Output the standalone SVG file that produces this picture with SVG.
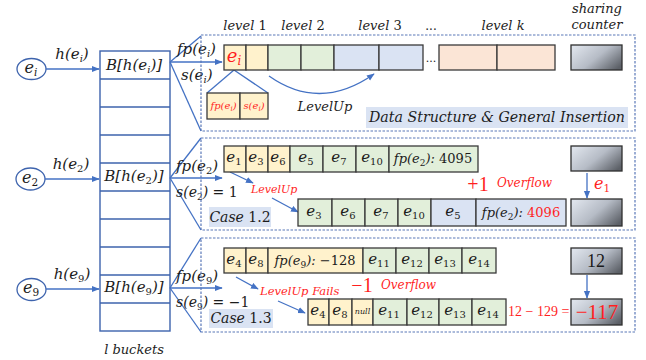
<svg xmlns="http://www.w3.org/2000/svg" width="646" height="360" viewBox="0 0 646 360">
  <style>
    .m { font-family: "DejaVu Serif", "Liberation Serif", serif; font-style: italic; fill: #1c1c1c; }
    .n { font-style: normal; }
    .t { font-family: "Liberation Serif", "DejaVu Serif", serif; font-style: normal; }
    .red { fill: #ff1f1f; }
    .c { text-anchor: middle; }
    .blue { stroke: #4472c4; fill: none; stroke-width: 1.3; }
    .panel { fill: none; stroke: #5a78b8; stroke-width: 1.2; stroke-dasharray: 2.5 1.5; }
    .cell { stroke: #3a3a3a; stroke-width: 1.3; }
    .y { fill: #fff2cc; }
    .g { fill: #e2efda; }
    .b { fill: #dae3f3; }
    .p { fill: #fbe5d6; }
    .tag { fill: #dae3f3; }
    .cnt { fill: url(#cntGrad); stroke: #2f2f2f; stroke-width: 1.3; }
  </style>
  <defs>
    <linearGradient id="cntGrad" x1="0" y1="0.2" x2="1" y2="0.8">
      <stop offset="0" stop-color="#dde2ea"/>
      <stop offset="0.5" stop-color="#b6bcc6"/>
      <stop offset="1" stop-color="#5c6067"/>
    </linearGradient>
    <marker id="arr" viewBox="0 0 10 10" refX="9" refY="5" markerWidth="6" markerHeight="6" orient="auto">
      <path d="M0,1 L10,5 L0,9 z" fill="#4472c4"/>
    </marker>
  </defs>

  <rect width="646" height="360" fill="#ffffff"/>

  <!-- hashed keys -->
  <g id="key-ei">
    <ellipse cx="31.5" cy="69" rx="14.5" ry="10.5" fill="#fff" stroke="#3d63ad" stroke-width="1.3"/>
    <text class="m c" x="31" y="73" font-size="16">e<tspan font-size="10.5" dy="3">i</tspan></text>
  </g>
  <g id="key-e2">
    <ellipse cx="30.5" cy="179" rx="14.5" ry="11" fill="#fff" stroke="#3d63ad" stroke-width="1.3"/>
    <text class="m c" x="30" y="183" font-size="16">e<tspan class="n" font-size="10.5" dy="3">2</tspan></text>
  </g>
  <g id="key-e9">
    <ellipse cx="31.5" cy="289.5" rx="14.5" ry="11" fill="#fff" stroke="#3d63ad" stroke-width="1.3"/>
    <text class="m c" x="31" y="293" font-size="16">e<tspan class="n" font-size="10.5" dy="3">9</tspan></text>
  </g>

  <!-- bucket array -->
  <g id="buckets">
    <rect x="100" y="51" width="70" height="280" fill="#fff" stroke="#3d63ad" stroke-width="1.4"/>
    <g stroke="#3d63ad" stroke-width="1.4">
      <line x1="100" y1="79" x2="170" y2="79"/>
      <line x1="100" y1="107" x2="170" y2="107"/>
      <line x1="100" y1="135" x2="170" y2="135"/>
      <line x1="100" y1="163" x2="170" y2="163"/>
      <line x1="100" y1="191" x2="170" y2="191"/>
      <line x1="100" y1="219" x2="170" y2="219"/>
      <line x1="100" y1="247" x2="170" y2="247"/>
      <line x1="100" y1="275" x2="170" y2="275"/>
      <line x1="100" y1="303" x2="170" y2="303"/>
    </g>
    <text class="m c" x="134" y="70" font-size="15">B[h(e<tspan font-size="10" dy="3">i</tspan><tspan dy="-3">)]</tspan></text>
    <text class="m c" x="134" y="181" font-size="15">B[h(e<tspan class="n" font-size="10" dy="3">2</tspan><tspan dy="-3">)]</tspan></text>
    <text class="m c" x="134" y="292" font-size="15">B[h(e<tspan class="n" font-size="10" dy="3">9</tspan><tspan dy="-3">)]</tspan></text>
    <text class="m c" x="134" y="354" font-size="13">l buckets</text>
  </g>

  <!-- connectors -->
  <g id="connectors">
    <line class="blue" x1="46" y1="69" x2="99" y2="69" marker-end="url(#arr)"/>
    <line class="blue" x1="45" y1="179" x2="99" y2="179" marker-end="url(#arr)"/>
    <line class="blue" x1="46" y1="289" x2="99" y2="289" marker-end="url(#arr)"/>

    <line class="blue" x1="170" y1="62" x2="201" y2="36"/>
    <line class="blue" x1="170" y1="62" x2="201" y2="131"/>
    <line class="blue" x1="170" y1="62" x2="222" y2="62" stroke-width="1.8" marker-end="url(#arr)"/>

    <line class="blue" x1="170" y1="178" x2="201" y2="138"/>
    <line class="blue" x1="170" y1="178" x2="201" y2="230"/>
    <line class="blue" x1="170" y1="178" x2="222" y2="178" stroke-width="1.8" marker-end="url(#arr)"/>

    <line class="blue" x1="170" y1="288" x2="201" y2="238"/>
    <line class="blue" x1="170" y1="288" x2="201" y2="332"/>
    <line class="blue" x1="170" y1="288" x2="222" y2="288" stroke-width="1.8" marker-end="url(#arr)"/>

    <!-- detail of a bucket entry -->
    <line class="blue" x1="234" y1="70" x2="207" y2="93"/>
    <line class="blue" x1="234" y1="70" x2="268" y2="93"/>
    <!-- level-up move -->
    <path class="blue" d="M269,76 Q320,112 374,74" marker-end="url(#arr)"/>

    <line class="blue" x1="230" y1="172" x2="253" y2="183" marker-end="url(#arr)"/>
    <line class="blue" x1="272" y1="198" x2="298" y2="212" marker-end="url(#arr)"/>

    <line class="blue" x1="236" y1="277" x2="258" y2="289" marker-end="url(#arr)"/>
    <line class="blue" x1="278" y1="301" x2="305" y2="313" marker-end="url(#arr)"/>

    <line class="blue" x1="587" y1="173" x2="587" y2="198" marker-end="url(#arr)"/>
    <line class="blue" x1="587" y1="275" x2="587" y2="298" marker-end="url(#arr)"/>
  </g>

  <!-- edge labels -->
  <g id="edge-labels">
    <text class="m c" x="72" y="59" font-size="15">h(e<tspan font-size="10" dy="3">i</tspan><tspan dy="-3">)</tspan></text>
    <text class="m c" x="71" y="169" font-size="15">h(e<tspan class="n" font-size="10" dy="3">2</tspan><tspan dy="-3">)</tspan></text>
    <text class="m c" x="72" y="279" font-size="15">h(e<tspan class="n" font-size="10" dy="3">9</tspan><tspan dy="-3">)</tspan></text>

    <text class="m" x="177" y="54" font-size="15">fp(e<tspan font-size="10" dy="3">i</tspan><tspan dy="-3">)</tspan></text>
    <text class="m" x="181" y="80" font-size="15">s(e<tspan font-size="10" dy="3">i</tspan><tspan dy="-3">)</tspan></text>

    <text class="m" x="176" y="171" font-size="15">fp(e<tspan class="n" font-size="10" dy="3">2</tspan><tspan dy="-3">)</tspan></text>
    <text class="m" x="176" y="197" font-size="14">s(e<tspan class="n" font-size="9" dy="3">2</tspan><tspan dy="-3">) </tspan><tspan class="n">= 1</tspan></text>

    <text class="m" x="176" y="281" font-size="15">fp(e<tspan class="n" font-size="10" dy="3">9</tspan><tspan dy="-3">)</tspan></text>
    <text class="m" x="176" y="307" font-size="14">s(e<tspan class="n" font-size="9" dy="3">9</tspan><tspan dy="-3">) </tspan><tspan class="n">= −1</tspan></text>
  </g>

  <!-- panel: data structure and general insertion -->
  <g id="panel-structure">
    <rect class="panel" x="201" y="35" width="434" height="96"/>
    <text class="m c" x="245" y="30" font-size="13">level <tspan class="n">1</tspan></text>
    <text class="m c" x="303" y="30" font-size="13">level <tspan class="n">2</tspan></text>
    <text class="m c" x="380" y="30" font-size="13">level <tspan class="n">3</tspan></text>
    <text class="m c n" x="431" y="30" font-size="12">...</text>
    <text class="m c" x="503" y="30" font-size="13">level k</text>
    <text class="m c" x="597" y="13" font-size="13">sharing</text>
    <text class="m c" x="597" y="29" font-size="13">counter</text>

    <rect class="cell y" x="224" y="45" width="22" height="25"/>
    <rect class="cell y" x="246" y="45" width="22" height="25"/>
    <rect class="cell g" x="268" y="45" width="33" height="25"/>
    <rect class="cell g" x="301" y="45" width="33" height="25"/>
    <rect class="cell b" x="334" y="45" width="45" height="25"/>
    <rect class="cell b" x="379" y="45" width="44" height="25"/>
    <text class="m c n" x="431" y="62" font-size="11">...</text>
    <rect class="cell p" x="439" y="45" width="58" height="25"/>
    <rect class="cell p" x="497" y="45" width="58" height="25"/>
    <rect class="cnt" x="571" y="45" width="51" height="25"/>
    <text class="m c red" x="234" y="62" font-size="18">e<tspan font-size="12" dy="3">i</tspan></text>

    <rect class="cell y" x="207" y="93" width="33" height="26"/>
    <rect class="cell y" x="240" y="93" width="28" height="26"/>
    <text class="m c red" x="223.5" y="109" font-size="10">fp(e<tspan font-size="7" dy="2">i</tspan><tspan dy="-2">)</tspan></text>
    <text class="m c red" x="254" y="109" font-size="10">s(e<tspan font-size="7" dy="2">i</tspan><tspan dy="-2">)</tspan></text>

    <text class="m c" x="325" y="111" font-size="13">LevelUp</text>

    <rect class="tag" x="366" y="107" width="262" height="21"/>
    <text class="m c" x="497" y="122" font-size="14" textLength="256" lengthAdjust="spacingAndGlyphs">Data Structure &amp; General Insertion</text>
  </g>

  <!-- panel: case 1.2 -->
  <g id="panel-case-1-2">
    <rect class="panel" x="201" y="138" width="434" height="92"/>
    <rect class="cell y" x="224" y="146" width="22" height="26"/>
    <rect class="cell y" x="246" y="146" width="22" height="26"/>
    <rect class="cell y" x="268" y="146" width="22" height="26"/>
    <rect class="cell g" x="290" y="146" width="33" height="26"/>
    <rect class="cell g" x="323" y="146" width="33" height="26"/>
    <rect class="cell g" x="356" y="146" width="33" height="26"/>
    <rect class="cell g" x="389" y="146" width="89" height="26"/>
    <g class="m c" font-size="15">
      <text x="234" y="162">e<tspan class="n" font-size="10" dy="3">1</tspan></text>
      <text x="256" y="162">e<tspan class="n" font-size="10" dy="3">3</tspan></text>
      <text x="278" y="162">e<tspan class="n" font-size="10" dy="3">6</tspan></text>
      <text x="306" y="162">e<tspan class="n" font-size="10" dy="3">5</tspan></text>
      <text x="339" y="162">e<tspan class="n" font-size="10" dy="3">7</tspan></text>
      <text x="372" y="162">e<tspan class="n" font-size="10" dy="3">10</tspan></text>
      <text x="433" y="163" font-size="13">fp(e<tspan class="n" font-size="9" dy="3">2</tspan><tspan dy="-3">):</tspan><tspan class="n"> 4095</tspan></text>
    </g>

    <rect class="cell g" x="298" y="199" width="34" height="27"/>
    <rect class="cell g" x="332" y="199" width="33" height="27"/>
    <rect class="cell g" x="365" y="199" width="33" height="27"/>
    <rect class="cell g" x="398" y="199" width="33" height="27"/>
    <rect class="cell b" x="431" y="199" width="45" height="27"/>
    <rect class="cell b" x="476" y="199" width="90" height="27"/>
    <g class="m c" font-size="15">
      <text x="314" y="216">e<tspan class="n" font-size="10" dy="3">3</tspan></text>
      <text x="348" y="216">e<tspan class="n" font-size="10" dy="3">6</tspan></text>
      <text x="381" y="216">e<tspan class="n" font-size="10" dy="3">7</tspan></text>
      <text x="414" y="216">e<tspan class="n" font-size="10" dy="3">10</tspan></text>
      <text x="453" y="216">e<tspan class="n" font-size="10" dy="3">5</tspan></text>
      <text x="521" y="217" font-size="13">fp(e<tspan class="n" font-size="9" dy="3">2</tspan><tspan dy="-3">): </tspan><tspan class="n red">4096</tspan></text>
    </g>

    <rect class="cnt" x="571" y="146" width="51" height="25"/>
    <rect class="cnt" x="571" y="199" width="51" height="27"/>
    <text class="m red" x="594" y="189" font-size="16">e<tspan class="n" font-size="10.5" dy="3">1</tspan></text>

    <text class="m red" x="251" y="193" font-size="11">LevelUp</text>
    <text class="t red c" x="478" y="191" font-size="20">+1</text>
    <text class="m red" x="497" y="187" font-size="12">Overflow</text>

    <rect class="tag" x="209" y="207" width="62" height="20"/>
    <text class="m c" x="240" y="222" font-size="14">Case <tspan class="n">1.2</tspan></text>
  </g>

  <!-- panel: case 1.3 -->
  <g id="panel-case-1-3">
    <rect class="panel" x="201" y="238" width="434" height="94"/>
    <rect class="cell y" x="224" y="248" width="22" height="25"/>
    <rect class="cell y" x="246" y="248" width="22" height="25"/>
    <rect class="cell y" x="268" y="248" width="95" height="25"/>
    <rect class="cell g" x="363" y="248" width="33" height="25"/>
    <rect class="cell g" x="396" y="248" width="33" height="25"/>
    <rect class="cell g" x="429" y="248" width="33" height="25"/>
    <rect class="cell g" x="462" y="248" width="34" height="25"/>
    <g class="m c" font-size="15">
      <text x="234" y="264">e<tspan class="n" font-size="10" dy="3">4</tspan></text>
      <text x="256" y="264">e<tspan class="n" font-size="10" dy="3">8</tspan></text>
      <text x="315" y="265" font-size="13">fp(e<tspan class="n" font-size="9" dy="3">9</tspan><tspan dy="-3">):</tspan><tspan class="n"> −128</tspan></text>
      <text x="379" y="264">e<tspan class="n" font-size="10" dy="3">11</tspan></text>
      <text x="412" y="264">e<tspan class="n" font-size="10" dy="3">12</tspan></text>
      <text x="445" y="264">e<tspan class="n" font-size="10" dy="3">13</tspan></text>
      <text x="479" y="264">e<tspan class="n" font-size="10" dy="3">14</tspan></text>
    </g>

    <rect class="cell y" x="308" y="299" width="21" height="26"/>
    <rect class="cell y" x="329" y="299" width="23" height="26"/>
    <rect class="cell y" x="352" y="299" width="21" height="26"/>
    <rect class="cell g" x="373" y="299" width="34" height="26"/>
    <rect class="cell g" x="407" y="299" width="32" height="26"/>
    <rect class="cell g" x="439" y="299" width="33" height="26"/>
    <rect class="cell g" x="472" y="299" width="34" height="26"/>
    <g class="m c" font-size="15">
      <text x="318" y="315">e<tspan class="n" font-size="10" dy="3">4</tspan></text>
      <text x="340" y="315">e<tspan class="n" font-size="10" dy="3">8</tspan></text>
      <text x="362.5" y="314" font-size="8">null</text>
      <text x="389" y="315">e<tspan class="n" font-size="10" dy="3">11</tspan></text>
      <text x="422" y="315">e<tspan class="n" font-size="10" dy="3">12</tspan></text>
      <text x="455" y="315">e<tspan class="n" font-size="10" dy="3">13</tspan></text>
      <text x="488" y="315">e<tspan class="n" font-size="10" dy="3">14</tspan></text>
    </g>

    <rect class="cnt" x="571" y="248" width="51" height="26"/>
    <rect class="cnt" x="571" y="299" width="51" height="26"/>
    <text class="t c" x="596" y="267" font-size="18" fill="#1a1a1a">12</text>
    <text class="t c red" x="597" y="319" font-size="21">−117</text>
    <text class="t red" x="508" y="316" font-size="14">12 − 129 =</text>

    <text class="m red" x="260" y="295" font-size="11.5">LevelUp Fails</text>
    <text class="t red c" x="362" y="292" font-size="20">−1</text>
    <text class="m red" x="381" y="289" font-size="12">Overflow</text>

    <rect class="tag" x="209" y="309" width="64" height="19"/>
    <text class="m c" x="241" y="323" font-size="14">Case <tspan class="n">1.3</tspan></text>
  </g>
</svg>
